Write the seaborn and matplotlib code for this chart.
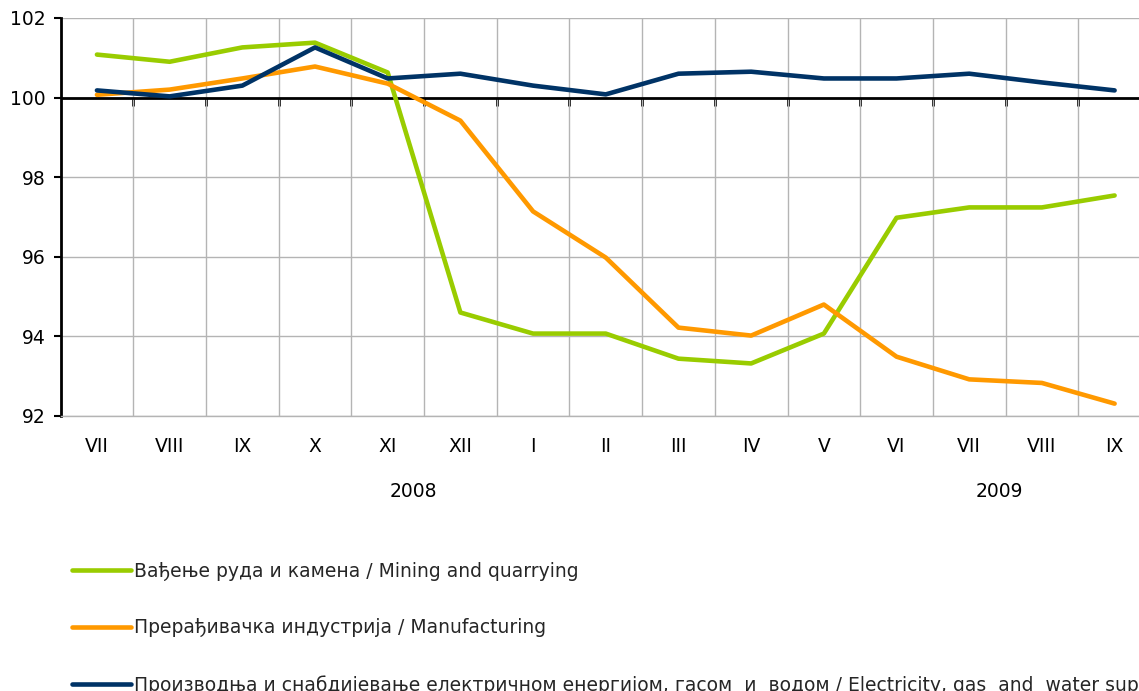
import numpy as np
import pandas as pd
import matplotlib
matplotlib.use("Agg")
import matplotlib.pyplot as plt
import seaborn as sns

months = ["VII", "VIII", "IX", "X", "XI", "XII", "I", "II", "III", "IV", "V", "VI", "VII", "VIII", "IX"]
mining = [101.08, 100.9, 101.26, 101.38, 100.63, 94.6, 94.07, 94.07, 93.44, 93.32, 94.07, 96.98, 97.24, 97.24, 97.54]
manufacturing = [100.07, 100.2, 100.48, 100.78, 100.35, 99.42, 97.14, 95.98, 94.22, 94.02, 94.8, 93.49, 92.92, 92.83, 92.31]
electricity = [100.18, 100.03, 100.3, 101.26, 100.48, 100.6, 100.3, 100.08, 100.6, 100.65, 100.48, 100.48, 100.6, 100.38, 100.18]
labels = [
    "Вађење руда и камена / Mining and quarrying",
    "Прерађивачка индустрија / Manufacturing",
    "Производња и снабдијевање електричном енергијом, гасом  и  водом / Electricity, gas  and  water supply",
]
colors = ["#99CC00", "#FF9900", "#003366"]
years = ["2008", "2009"]
year_pos = [4.36, 12.42]

sns.set_theme(style="white")
plt.rcParams["font.family"] = ["DejaVu Sans"]
fs = 13.5

idx = np.arange(len(months))
df = pd.DataFrame({
    "x": np.tile(idx, 3),
    "value": mining + manufacturing + electricity,
    "series": np.repeat(labels, len(months)),
})

fig = plt.figure(figsize=(11.39, 6.91), dpi=100)
ax = fig.add_axes([0.0532, 0.398, 0.9573, 0.576])

sns.lineplot(data=df, x="x", y="value", hue="series", hue_order=labels,
             palette=colors, linewidth=3.3, ax=ax, legend=False, zorder=3)

ax.set_xlim(-0.5, len(months) - 0.5)
ax.set_ylim(92, 102)
ax.set_yticks([92, 94, 96, 98, 100, 102])
ax.set_xticks(idx)
ax.set_xticklabels(months)
ax.set_xticks(np.arange(0.5, len(months) - 1, 1.0), minor=True)
ax.set_xlabel("")
ax.set_ylabel("")

ax.grid(axis="y", color="#b4b4b4", linewidth=1)
ax.grid(axis="x", which="minor", color="#b4b4b4", linewidth=1)
ax.grid(axis="x", which="major", visible=False)
ax.axhline(100, color="black", linewidth=2, zorder=2)

for s in ["top", "right"]:
    ax.spines[s].set_visible(False)
ax.spines["left"].set_color("black")
ax.spines["left"].set_linewidth(2)
ax.spines["bottom"].set_color("#b4b4b4")
ax.spines["bottom"].set_linewidth(1)

ax.tick_params(axis="y", left=True, direction="out", length=5, width=1.5, color="black",
               labelsize=fs, pad=6, labelcolor="black")
ax.tick_params(axis="x", which="both", bottom=False, labelsize=fs, pad=9, labelcolor="black")

# tick marks hanging from the 100 line at month boundaries
sec = ax.secondary_xaxis(0.8)
sec.xaxis.set_ticks_position("bottom")
sec.set_xticks(np.arange(0.5, len(months) - 1, 1.0))
sec.set_xticklabels([])
sec.tick_params(axis="x", bottom=True, top=False, direction="out", length=6, width=2, color="black")
for s in sec.spines.values():
    s.set_visible(False)

for y, p in zip(years, year_pos):
    ax.text(p, -0.19, y, transform=ax.get_xaxis_transform(), ha="center", va="center",
            fontsize=fs, color="black")

handles = [plt.Line2D([], [], color=c, linewidth=3.3) for c in colors]
fig.legend(handles, labels, loc="upper left", bbox_to_anchor=(0.057, 0.198),
           frameon=False, fontsize=fs, handlelength=3.1, handletextpad=0.2,
           labelspacing=2.0, borderaxespad=0)

fig.savefig("out.png", dpi=100)
